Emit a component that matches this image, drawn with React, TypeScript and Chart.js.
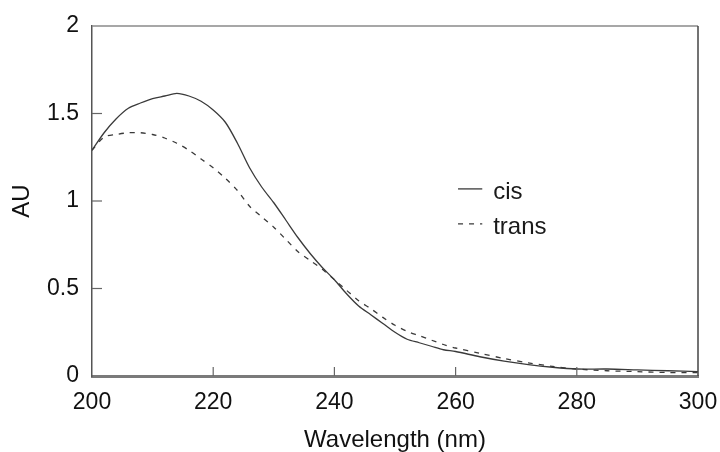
import { useEffect, useRef } from "react";
import { Chart, registerables } from "chart.js";

Chart.register(...registerables);

const wavelengths = [200, 202, 204, 206, 208, 210, 212, 214, 216, 218, 220, 222, 224, 226, 228, 230, 232, 234, 236, 238, 240, 242, 244, 246, 248, 250, 252, 254, 256, 258, 260, 264, 268, 272, 276, 280, 285, 290, 295, 300];
const cisAU = [1.29, 1.39, 1.47, 1.53, 1.56, 1.585, 1.6, 1.615, 1.6, 1.57, 1.52, 1.45, 1.33, 1.19, 1.08, 0.99, 0.89, 0.79, 0.7, 0.62, 0.55, 0.47, 0.4, 0.35, 0.3, 0.25, 0.21, 0.19, 0.17, 0.15, 0.14, 0.11, 0.085, 0.065, 0.05, 0.04, 0.04, 0.035, 0.03, 0.025];
const transAU = [1.29, 1.365, 1.38, 1.39, 1.39, 1.38, 1.36, 1.33, 1.29, 1.24, 1.19, 1.13, 1.06, 0.97, 0.91, 0.85, 0.78, 0.71, 0.66, 0.61, 0.55, 0.49, 0.43, 0.385, 0.335, 0.29, 0.255, 0.23, 0.205, 0.18, 0.16, 0.13, 0.1, 0.075, 0.055, 0.04, 0.03, 0.025, 0.02, 0.02];
const xTicks = [200, 220, 240, 260, 280, 300];
const yTicks = [0, 0.5, 1, 1.5, 2];
const yTickLabels = ["0", "0.5", "1", "1.5", "2"];
const seriesNames = ["cis", "trans"];

const FONT = "'Liberation Sans', Arial, Helvetica, sans-serif";

export default function App() {
  const ref = useRef<HTMLCanvasElement>(null);

  useEffect(() => {
    document.body.style.margin = "0";
    const canvas = ref.current!;

    const frame = {
      id: "frame",
      afterDatasetsDraw(chart: any) {
        const { ctx, chartArea } = chart;
        const { left, right, top, bottom } = chartArea;
        const xs = chart.scales.x;
        const ys = chart.scales.y;
        ctx.save();
        ctx.strokeStyle = "#8a8a8a";
        ctx.lineWidth = 1.5;
        ctx.beginPath();
        ctx.moveTo(left, top);
        ctx.lineTo(right, top);
        ctx.stroke();
        ctx.strokeStyle = "#444";
        ctx.beginPath();
        ctx.moveTo(right, top);
        ctx.lineTo(right, bottom);
        ctx.stroke();
        ctx.strokeStyle = "#666";
        ctx.lineWidth = 1.2;
        xTicks.slice(1, -1).forEach((v) => {
          const px = xs.getPixelForValue(v);
          ctx.beginPath();
          ctx.moveTo(px, bottom);
          ctx.lineTo(px, bottom - 9);
          ctx.stroke();
        });
        yTicks.slice(1, -1).forEach((v) => {
          const py = ys.getPixelForValue(v);
          ctx.beginPath();
          ctx.moveTo(left, py);
          ctx.lineTo(left + 10, py);
          ctx.stroke();
        });
        const w = right - left;
        const h = bottom - top;
        const lx0 = left + 0.604 * w;
        const lx1 = left + 0.644 * w;
        const tx = left + 0.662 * w;
        const rows = [0.474, 0.574];
        ctx.font = `24px ${FONT}`;
        ctx.textBaseline = "middle";
        ctx.fillStyle = "#1a1a1a";
        chart.data.datasets.forEach((ds: any, i: number) => {
          const y = top + rows[i] * h;
          ctx.strokeStyle = ds.borderColor;
          ctx.lineWidth = ds.borderWidth;
          ctx.setLineDash(ds.borderDash || []);
          ctx.beginPath();
          ctx.moveTo(lx0, y - 3);
          ctx.lineTo(lx1, y - 3);
          ctx.stroke();
          ctx.setLineDash([]);
          ctx.fillText(ds.label, tx, y);
        });
        ctx.restore();
      },
    };

    const chart = new Chart(canvas, {
      type: "line",
      data: {
        datasets: [
          {
            label: seriesNames[0],
            data: wavelengths.map((x, i) => ({ x, y: cisAU[i] })),
            borderColor: "#3a3a3a",
            borderWidth: 1.3,
            pointRadius: 0,
            tension: 0.3,
          },
          {
            label: seriesNames[1],
            data: wavelengths.map((x, i) => ({ x, y: transAU[i] })),
            borderColor: "#3a3a3a",
            borderWidth: 1.3,
            borderDash: [5, 6],
            pointRadius: 0,
            tension: 0.3,
          },
        ],
      },
      options: {
        animation: false,
        responsive: false,
        layout: { padding: { left: 4, right: 22, top: 26, bottom: 0 } },
        plugins: { legend: { display: false }, tooltip: { enabled: false } },
        scales: {
          x: {
            type: "linear",
            min: 200,
            max: 300,
            afterBuildTicks: (s: any) => {
              s.ticks = xTicks.map((v) => ({ value: v }));
            },
            afterFit: (s: any) => {
              s.height = 76;
              s.paddingLeft = 0;
              s.paddingRight = 0;
            },
            grid: { display: false, drawTicks: false },
            border: { display: true, color: "#7a7a7a", width: 3 },
            ticks: {
              padding: 13,
              color: "#111",
              font: { family: FONT, size: 23 },
              maxRotation: 0,
            },
            title: {
              display: true,
              text: "Wavelength (nm)",
              color: "#111",
              font: { family: FONT, size: 24, lineHeight: 1 },
              padding: { top: 0, bottom: 0 },
            },
          },
          y: {
            type: "linear",
            min: 0,
            max: 2,
            afterBuildTicks: (s: any) => {
              s.ticks = yTicks.map((v) => ({ value: v }));
            },
            afterFit: (s: any) => {
              s.width = 88;
              s.paddingTop = 0;
              s.paddingBottom = 0;
            },
            grid: { display: false, drawTicks: false },
            border: { display: true, color: "#555", width: 1.5 },
            ticks: {
              padding: 13,
              color: "#111",
              font: { family: FONT, size: 23 },
              callback: (v: any) => {
                const i = yTicks.indexOf(Number(v));
                return i >= 0 ? yTickLabels[i] : "";
              },
            },
            title: {
              display: true,
              text: "AU",
              color: "#111",
              font: { family: FONT, size: 24 },
              padding: { top: 4, bottom: 0 },
            },
          },
        },
      },
      plugins: [frame],
    });
    return () => chart.destroy();
  }, []);

  return (
    <div style={{ width: 720, height: 452 }}>
      <canvas ref={ref} width={720} height={452} />
    </div>
  );
}
